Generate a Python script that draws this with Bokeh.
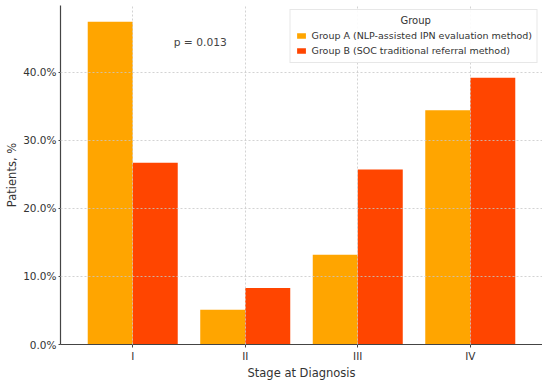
from bokeh.plotting import figure
from bokeh.models import ColumnDataSource, FactorRange, PrintfTickFormatter, Legend, LegendItem, Label
from bokeh.transform import dodge
from bokeh.embed import file_html
from bokeh.resources import INLINE

stages = ["I", "II", "III", "IV"]
group_a = [47.4, 5.1, 13.2, 34.4]
group_b = [26.7, 8.3, 25.7, 39.2]
label_a = "Group A (NLP-assisted IPN evaluation method)"
label_b = "Group B (SOC traditional referral method)"
legend_title = "Group"
y_ticks = [0, 10, 20, 30, 40]

FONT = "DejaVu Sans"
src = ColumnDataSource(dict(stage=stages, a=group_a, b=group_b))

p = figure(x_range=FactorRange(*stages, range_padding=0.142, range_padding_units="absolute"),
           y_range=(0, 49.8), width=542, height=382, output_backend="svg",
           toolbar_location=None, min_border_left=60, min_border_right=0,
           min_border_top=5, min_border_bottom=30)

ra = p.vbar(x=dodge("stage", -0.2, range=p.x_range), top="a", width=0.4, source=src,
            fill_color="#FFA500", line_color=None)
rb = p.vbar(x=dodge("stage", 0.2, range=p.x_range), top="b", width=0.4, source=src,
            fill_color="#FF4500", line_color=None)

p.outline_line_color = None
for g in (p.xgrid, p.ygrid):
    g.grid_line_color = "#c8c8c8"
    g.grid_line_dash = "2 2"
    g.grid_line_width = 0.8
p.xgrid.level = "overlay"
p.ygrid.level = "overlay"

p.yaxis.ticker = y_ticks
p.yaxis.formatter = PrintfTickFormatter(format="%.1f%%")
for ax in (p.xaxis[0], p.yaxis[0]):
    ax.axis_line_color = "#444444"
    ax.axis_line_width = 1.2
    ax.major_tick_line_color = "#444444"
    ax.minor_tick_line_color = None
    ax.major_label_text_font = FONT
    ax.major_label_text_font_size = "10.5px"
    ax.major_label_text_color = "#333333"
    ax.axis_label_text_font = FONT
    ax.axis_label_text_font_size = "11.5px"
    ax.axis_label_text_font_style = "normal"
    ax.axis_label_text_color = "#333333"
p.yaxis.major_tick_out = 2
p.yaxis.major_tick_in = 0
p.xaxis.major_tick_out = 3
p.xaxis.major_tick_in = 0
p.xaxis.major_label_standoff = 2
p.xaxis.axis_label_standoff = 1
p.yaxis.major_label_standoff = 2
p.yaxis.axis_label_standoff = 1
p.xaxis.axis_label = "Stage at Diagnosis"
p.yaxis.axis_label = "Patients, %"

legend = Legend(items=[LegendItem(label=label_a, renderers=[ra]),
                       LegendItem(label=label_b, renderers=[rb])],
                location="top_right", title="\u00a0" * 33 + legend_title)
legend.title_text_font = FONT
legend.title_text_font_size = "10px"
legend.title_text_font_style = "normal"
legend.title_text_color = "#333333"
legend.title_standoff = 3
legend.label_text_font = FONT
legend.label_text_font_size = "9.5px"
legend.label_text_color = "#333333"
legend.label_height = 13
legend.glyph_height = 7
legend.glyph_width = 11
legend.spacing = 2
legend.padding = 5
legend.margin = 4
legend.border_line_color = "#d0d0d0"
legend.background_fill_alpha = 0.9
p.add_layout(legend)

p.add_layout(Label(x=1.1, y=44.3, text="p = 0.013", text_font=FONT,
                   text_font_size="10.7px", text_color="#444444",
                   text_align="center", text_baseline="middle"))

open("out.html", "w").write(file_html(p, INLINE))
